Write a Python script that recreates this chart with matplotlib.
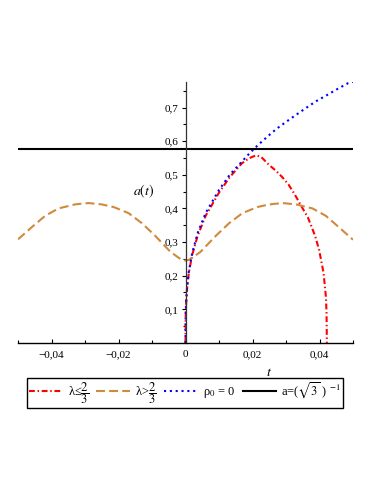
#!/usr/bin/env python3
# -*- coding: utf-8 -*-

import matplotlib
matplotlib.use("Agg")
import matplotlib.pyplot as plt
from matplotlib.ticker import FixedLocator, FixedFormatter

# ========== data ==========
# rho_0 = 0
T_BLUE = [0.0, 0.00005, 0.0002, 0.0005, 0.001, 0.002, 0.0036, 0.006, 0.010, 0.0132,
          0.0168, 0.0192, 0.0218, 0.0245, 0.0272, 0.0301, 0.0331, 0.0360, 0.0390,
          0.0422, 0.0453, 0.0486, 0.0500]
A_BLUE = [0.0, 0.078, 0.124, 0.168, 0.212, 0.267, 0.326, 0.386, 0.455, 0.500,
          0.539, 0.565, 0.590, 0.614, 0.637, 0.658, 0.679, 0.699, 0.719,
          0.737, 0.755, 0.773, 0.777]

# lambda <= 2/3
T_RED = [0.0, 0.00005, 0.0002, 0.0005, 0.001, 0.002, 0.0036, 0.006, 0.010, 0.0132,
         0.0168, 0.0185, 0.0196, 0.0211, 0.0226, 0.025, 0.027, 0.0288, 0.0307,
         0.0327, 0.0345, 0.0365, 0.0387, 0.0399, 0.0412, 0.0419, 0.0421, 0.0422]
A_RED = [0.0, 0.078, 0.123, 0.166, 0.209, 0.262, 0.318, 0.378, 0.447, 0.493,
         0.534, 0.546, 0.552, 0.558, 0.553, 0.529, 0.512, 0.494, 0.472,
         0.440, 0.408, 0.374, 0.318, 0.276, 0.209, 0.138, 0.090, 0.0]

# lambda > 2/3
T_ORANGE = [-0.050, -0.0458, -0.0419, -0.0379, -0.033, -0.029, -0.025, -0.0214,
            -0.017, -0.0130, -0.009, -0.0045, -0.002, -0.001, 0.0,
            0.001, 0.002, 0.0045, 0.009, 0.013, 0.017, 0.0214, 0.025, 0.029,
            0.033, 0.0379, 0.0419, 0.0458, 0.050]
A_ORANGE = [0.308, 0.345, 0.378, 0.400, 0.412, 0.416, 0.412, 0.404,
            0.386, 0.356, 0.318, 0.271, 0.253, 0.247, 0.245,
            0.247, 0.253, 0.271, 0.318, 0.356, 0.386, 0.404, 0.412, 0.416,
            0.412, 0.400, 0.378, 0.344, 0.307]

A_CRIT = 0.577  # a = (sqrt 3)^-1

XTICKS = [-0.04, -0.02, 0.0, 0.02, 0.04]
XTICK_LABELS = ["\u22120,04", "\u22120,02", "0", "0,02", "0,04"]
XMINOR = [-0.05, -0.03, -0.01, 0.01, 0.03, 0.05]
YTICKS = [0.1, 0.2, 0.3, 0.4, 0.5, 0.6, 0.7]
YTICK_LABELS = ["0,1", "0,2", "0,3", "0,4", "0,5", "0,6", "0,7"]
YMINOR = [0.05, 0.15, 0.25, 0.35, 0.45, 0.55, 0.65, 0.75]

LABELS = [r"λ≤$\dfrac{2}{3}$", r"λ>$\dfrac{2}{3}$", r"ρ$_0$ = 0",
          r"a=($\sqrt{3}$ ) $^{-1}$"]

# ========== style ==========
plt.rcParams["font.family"] = ["Liberation Serif", "DejaVu Serif"]
plt.rcParams["mathtext.fontset"] = "stix"
plt.rcParams["font.size"] = 8

W, H = 383, 495
fig = plt.figure(figsize=(W / 100, H / 100), dpi=100)
ax = fig.add_axes([18 / W, 1 - 342.9 / H, 335 / W, (342.9 - 81.7) / H])

col_red = "#ff0000"
col_orange = "#d08a3c"
col_blue = "#0000ff"

l_red, = ax.plot(T_RED, A_RED, color=col_red, lw=1.5,
                 linestyle=(0, (2.8, 1.3, 0.7, 1.3)), dash_capstyle="butt")
l_or, = ax.plot(T_ORANGE, A_ORANGE, color=col_orange, lw=1.5,
                linestyle=(0, (4.3, 2.0)), dash_capstyle="butt")
l_bl, = ax.plot(T_BLUE, A_BLUE, color=col_blue, lw=1.5,
                linestyle=(0, (1, 1.8)), dash_capstyle="butt")
l_bk = ax.axhline(A_CRIT, color="black", lw=1.5)

ax.set_xlim(-0.05, 0.05)
ax.set_ylim(0, 0.777)

# Maple style axes: y axis through t = 0, no frame
for s in ["top", "right"]:
    ax.spines[s].set_visible(False)
ax.spines["left"].set_position(("data", 0))
ax.spines["left"].set_linewidth(0.9)
ax.spines["left"].set_color("#333333")
ax.spines["bottom"].set_linewidth(1.0)

ax.xaxis.set_major_locator(FixedLocator(XTICKS))
ax.xaxis.set_major_formatter(FixedFormatter(XTICK_LABELS))
ax.xaxis.set_minor_locator(FixedLocator(XMINOR))
ax.yaxis.set_major_locator(FixedLocator(YTICKS))
ax.yaxis.set_major_formatter(FixedFormatter(YTICK_LABELS))
ax.yaxis.set_minor_locator(FixedLocator(YMINOR))

ax.tick_params(axis="x", which="major", direction="in", length=3, width=0.8, pad=5, labelsize=8)
ax.tick_params(axis="x", which="minor", direction="in", length=2, width=0.8)
ax.tick_params(axis="y", which="major", direction="out", length=3, width=0.8, pad=2, labelsize=8)
ax.tick_params(axis="y", which="minor", direction="out", length=2, width=0.8)

fig.text(144 / W, 1 - 191 / H, r"$a\left(t\right)$", ha="center", va="center", fontsize=10)
fig.text(269.5 / W, 1 - 372.5 / H, r"$t$", ha="center", va="center", fontsize=10)

leg = fig.legend([l_red, l_or, l_bl, l_bk], LABELS, loc="center",
                 bbox_to_anchor=(185 / W, 1 - 392.8 / H), ncol=4, frameon=True,
                 fancybox=False, framealpha=1, edgecolor="black",
                 handlelength=2.7, handletextpad=0.4, columnspacing=0.6,
                 borderpad=0.15, borderaxespad=0, fontsize=9)
leg.get_frame().set_linewidth(1.0)

fig.savefig("out.png", dpi=100)
